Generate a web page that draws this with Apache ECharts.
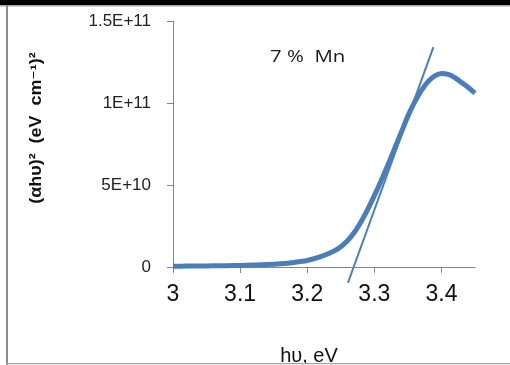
<!DOCTYPE html>
<html>
<head>
<meta charset="utf-8">
<script src="https://cdn.jsdelivr.net/npm/echarts@6/dist/echarts.min.js"></script>
<style>
  html, body { margin: 0; padding: 0; background: #fff; }
  #chart { width: 510px; height: 365px; }
</style>
</head>
<body>
<div id="chart"></div>
<script>
// Photon energy (eV) and (αhυ)² values of the absorption edge
const photonEnergy = [3.00, 3.02, 3.04, 3.06, 3.08, 3.10, 3.12, 3.14, 3.16, 3.18,
  3.20, 3.22, 3.24, 3.25, 3.26, 3.27, 3.28, 3.29, 3.30, 3.31, 3.32, 3.33, 3.34,
  3.35, 3.36, 3.37, 3.38, 3.39, 3.40, 3.41, 3.42, 3.43, 3.44, 3.45];
const alphaHvSq = [0.5e9, 0.55e9, 0.6e9, 0.7e9, 0.8e9, 0.95e9, 1.2e9, 1.5e9, 2.0e9, 2.8e9,
  4.0e9, 6.3e9, 9.8e9, 12.4e9, 16.0e9, 21e9, 27.5e9, 35e9, 43.5e9, 52.5e9, 62e9, 72e9, 82e9,
  92e9, 100.5e9, 107.5e9, 113e9, 116.5e9, 118e9, 117.5e9, 115.5e9, 112.5e9, 109.5e9, 106e9];

// Linear extrapolation of the edge (Tauc fit)
const tangentX = [3.2607, 3.388];
const tangentY = [-9.6e9, 1.341e11];

// Axis ticks
const xTickValues = [3, 3.1, 3.2, 3.3, 3.4];
const yTickValues = [0, 5e10, 1e11, 1.5e11];
const yTickLabels = ['0', '5E+10', '1E+11', '1.5E+11'];

const sampleLabel = '7 %  Mn';
const xTitle = 'hυ, eV';
const yTitle = '(αhυ)²  (eV  cm⁻¹)²';

const blue = '#4a7ebb';
const axisGray = '#868686';

const chart = echarts.init(document.getElementById('chart'), null, { renderer: 'canvas' });

chart.setOption({
  animation: false,
  backgroundColor: '#ffffff',
  grid: { left: 173, right: 35, top: 21, bottom: 98, containLabel: false, outerBoundsMode: 'none' },
  xAxis: {
    type: 'value',
    min: 3,
    max: 3.45,
    interval: 0.1,
    splitLine: { show: false },
    axisLine: { show: true, lineStyle: { color: axisGray, width: 1 } },
    axisTick: { show: true, inside: false, length: 6, lineStyle: { color: axisGray }, customValues: xTickValues },
    axisLabel: {
      customValues: xTickValues,
      margin: 16,
      color: '#111',
      fontFamily: 'Liberation Sans',
      fontSize: 23,
      formatter: v => String(v)
    }
  },
  yAxis: {
    type: 'value',
    min: 0,
    max: 1.5e11,
    interval: 5e10,
    splitLine: { show: false },
    axisLine: { show: true, lineStyle: { color: axisGray, width: 1 } },
    axisTick: { show: true, inside: false, length: 6, lineStyle: { color: axisGray } },
    axisLabel: {
      margin: 22,
      color: '#222',
      fontFamily: 'Liberation Sans',
      fontSize: 17,
      formatter: v => {
        const i = yTickValues.findIndex(t => Math.abs(t - v) < 1);
        return i >= 0 ? yTickLabels[i] : '';
      }
    }
  },
  series: [
    {
      type: 'line',
      data: tangentX.map((x, i) => [x, tangentY[i]]),
      showSymbol: false,
      clip: false,
      lineStyle: { color: blue, width: 2 },
      z: 2
    },
    {
      type: 'line',
      data: photonEnergy.map((x, i) => [x, alphaHvSq[i]]),
      smooth: 0.3,
      showSymbol: false,
      lineStyle: { color: blue, width: 5 },
      z: 3
    }
  ],
  graphic: [
    {
      type: 'text', x: 270, y: 57, scaleX: 1.2,
      style: { text: sampleLabel, font: '17px "Open Sans"', fill: '#1a1a1a', verticalAlign: 'middle' }
    },
    {
      type: 'text', x: 309, y: 346,
      style: { text: xTitle, font: '20px "Liberation Sans"', fill: '#111', align: 'center', verticalAlign: 'top' }
    },
    {
      type: 'text', x: 37, y: 128, rotation: Math.PI / 2, scaleX: 1.12,
      style: { text: yTitle, font: 'bold 16px "Liberation Sans", "DejaVu Sans"', fill: '#111', align: 'center', verticalAlign: 'middle' }
    },
    // page frame
    { type: 'rect', shape: { x: 0, y: 0, width: 510, height: 5 }, style: { fill: '#000' }, z: 100 },
    { type: 'rect', shape: { x: 0, y: 5, width: 510, height: 1.5 }, style: { fill: '#a6a6a6' }, z: 100 },
    { type: 'rect', shape: { x: 6, y: 5, width: 2, height: 360 }, style: { fill: '#8c8c8c' }, z: 100 },
    { type: 'rect', shape: { x: 6, y: 363, width: 504, height: 1.5 }, style: { fill: '#a6a6a6' }, z: 100 },
    { type: 'rect', shape: { x: 8, y: 364.5, width: 502, height: 1 }, style: { fill: '#fff' }, z: 100 }
  ]
});
</script>
</body>
</html>
